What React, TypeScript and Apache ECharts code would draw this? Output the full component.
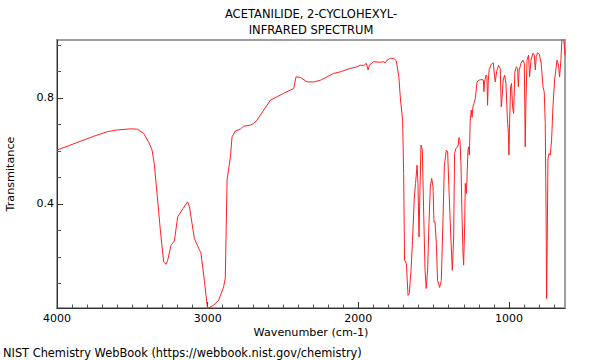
import React, { useEffect, useRef } from "react";
import * as echarts from "echarts";

// Wavenumbers (cm-1) and transmittance
const WAVENUMBERS = [
  4000, 3756, 3667, 3600, 3513, 3468, 3425, 3391, 3369, 3354, 3336, 3314, 3292, 3276, 3265, 3243, 3221,
  3199, 3163, 3133, 3121, 3088, 3053, 3044, 3022, 3004, 3000, 2960, 2927, 2894, 2883, 2871, 2849,
  2838, 2816, 2783, 2761, 2717, 2695, 2672, 2650, 2606, 2584, 2539, 2496, 2451, 2429, 2413, 2385,
  2340, 2296, 2252, 2208, 2164, 2119, 2075, 2053, 2008, 1987, 1965, 1947, 1935, 1927, 1898, 1854,
  1834, 1821, 1809, 1788, 1766, 1748, 1731, 1721, 1706, 1699, 1693, 1681, 1670, 1662, 1650, 1640,
  1628, 1620, 1610, 1604, 1597, 1593, 1584, 1575, 1567, 1557, 1549, 1540, 1531, 1522, 1513, 1504,
  1498, 1491, 1482, 1474, 1460, 1449, 1438, 1429, 1416, 1407, 1398, 1385, 1376, 1367, 1361, 1352,
  1338, 1332, 1325, 1318, 1312, 1305, 1301, 1294, 1290, 1283, 1279, 1272, 1268, 1263, 1257, 1250,
  1245, 1239, 1223, 1212, 1197, 1179, 1170, 1166, 1162, 1152, 1146, 1142, 1137, 1131, 1117, 1104,
  1095, 1091, 1082, 1069, 1058, 1051, 1046, 1038, 1029, 1020, 1011, 1004, 1000, 996, 989, 983,
  976, 969, 961, 951, 943, 938, 932, 920, 907, 898, 892, 887, 880, 870, 863, 854,
  841, 832, 825, 819, 810, 799, 786, 774, 766, 759, 754, 750, 746, 741, 734, 726,
  717, 708, 697, 681, 671, 664, 655, 648, 638, 628,
];
const TRANSMITTANCE = [
  0.603, 0.655, 0.672, 0.679, 0.683, 0.682, 0.666, 0.632, 0.603, 0.55, 0.439, 0.301, 0.181, 0.172, 0.188, 0.244, 0.26,
  0.351, 0.383, 0.408, 0.389, 0.269, 0.225, 0.213, 0.112, 0.02, 0.006, 0.018, 0.037, 0.087, 0.12, 0.49, 0.577,
  0.653, 0.675, 0.682, 0.693, 0.697, 0.703, 0.716, 0.735, 0.772, 0.791, 0.804, 0.817, 0.829, 0.835, 0.879, 0.877,
  0.86, 0.86, 0.866, 0.879, 0.892, 0.898, 0.907, 0.911, 0.917, 0.923, 0.921, 0.93, 0.905, 0.923, 0.936, 0.934,
  0.936, 0.932, 0.942, 0.949, 0.949, 0.94, 0.88, 0.8, 0.716, 0.515, 0.188, 0.175, 0.055, 0.062, 0.15, 0.263,
  0.426, 0.477, 0.546, 0.477, 0.275, 0.389, 0.622, 0.603, 0.389, 0.15, 0.081, 0.15, 0.326, 0.464, 0.496, 0.464,
  0.332, 0.332, 0.251, 0.112, 0.085, 0.112, 0.338, 0.54, 0.603, 0.596, 0.452, 0.263, 0.15, 0.275, 0.59, 0.609,
  0.618, 0.65, 0.64, 0.54, 0.364, 0.213, 0.169, 0.313, 0.477, 0.439, 0.489, 0.603, 0.615, 0.584, 0.716, 0.754,
  0.726, 0.766, 0.798, 0.86, 0.867, 0.869, 0.867, 0.823, 0.86, 0.886, 0.879, 0.772, 0.867, 0.907, 0.927, 0.932,
  0.879, 0.86, 0.898, 0.923, 0.911, 0.766, 0.798, 0.867, 0.886, 0.854, 0.728, 0.666, 0.584, 0.703, 0.842, 0.854,
  0.766, 0.741, 0.897, 0.917, 0.911, 0.842, 0.905, 0.93, 0.942, 0.93, 0.615, 0.791, 0.942, 0.961, 0.879, 0.942,
  0.968, 0.961, 0.905, 0.955, 0.97, 0.965, 0.93, 0.842, 0.823, 0.703, 0.389, 0.043, 0.263, 0.571, 0.59, 0.584,
  0.64, 0.766, 0.867, 0.942, 0.923, 0.879, 0.942, 1.03, 1.03, 0.96,
];

const X_MAJOR_TICKS = [1000, 2000, 3000, 4000];
const X_MINOR_TICKS = [
  700, 800, 900, 1100, 1200, 1300, 1400, 1500, 1600, 1700, 1800, 1900, 2100, 2200, 2300, 2400,
  2500, 2600, 2700, 2800, 2900, 3100, 3200, 3300, 3400, 3500, 3600, 3700, 3800, 3900,
];
const Y_MAJOR_TICKS = [0.4, 0.8];
const Y_MINOR_TICKS = [0.1, 0.2, 0.3, 0.5, 0.6, 0.7, 0.9, 1.0];

const X_MIN = 628;
const X_MAX = 4000;
const Y_MIN = 0.0075;
const Y_MAX = 1.018;

const TITLE_LINES = ["ACETANILIDE, 2-CYCLOHEXYL-", "INFRARED SPECTRUM"];
const X_NAME = "Wavenumber (cm-1)";
const Y_NAME = "Transmitance";
const FOOTER = "NIST Chemistry WebBook (https://webbook.nist.gov/chemistry)";

const FONT = "DejaVu Sans";

export default function App() {
  const ref = useRef<HTMLDivElement>(null);

  useEffect(() => {
    if (!ref.current) return;
    const chart = echarts.init(ref.current, null, { renderer: "svg" });
    const data = WAVENUMBERS.map((w, i) => [w, TRANSMITTANCE[i]]);
    const axisLineStyle = { color: "#333", width: 1 };

    chart.setOption({
      animation: false,
      backgroundColor: "#fff",
      grid: {
        left: 57,
        right: 35,
        top: 40,
        bottom: 52,
        show: true,
        borderColor: "#a0a0a0",
        borderWidth: 2,
      },
      xAxis: [
        {
          type: "value",
          inverse: true,
          min: X_MIN,
          max: X_MAX,
          position: "bottom",
          axisLine: { show: true, lineStyle: axisLineStyle },
          axisTick: { show: true, inside: true, length: 6, customValues: X_MAJOR_TICKS, lineStyle: axisLineStyle },
          axisLabel: {
            show: true,
            customValues: X_MAJOR_TICKS,
            formatter: (v: number) => String(v),
            margin: 5,
            color: "#000",
            fontFamily: FONT,
            fontSize: 11,
          },
          splitLine: { show: false },
        },
        {
          type: "value",
          inverse: true,
          min: X_MIN,
          max: X_MAX,
          position: "bottom",
          axisLine: { show: false },
          axisTick: { show: true, inside: true, length: 3.5, customValues: X_MINOR_TICKS, lineStyle: { color: "#555", width: 1 } },
          axisLabel: { show: false },
          splitLine: { show: false },
        },
      ],
      yAxis: [
        {
          type: "value",
          min: Y_MIN,
          max: Y_MAX,
          position: "left",
          axisLine: { show: true, lineStyle: axisLineStyle },
          axisTick: { show: true, inside: true, length: 6, customValues: Y_MAJOR_TICKS, lineStyle: axisLineStyle },
          axisLabel: {
            show: true,
            customValues: Y_MAJOR_TICKS,
            formatter: (v: number) => String(v),
            margin: 3,
            color: "#000",
            fontFamily: FONT,
            fontSize: 11,
          },
          splitLine: { show: false },
        },
        {
          type: "value",
          min: Y_MIN,
          max: Y_MAX,
          position: "left",
          axisLine: { show: false },
          axisTick: { show: true, inside: true, length: 4, customValues: Y_MINOR_TICKS, lineStyle: { color: "#555", width: 1 } },
          axisLabel: { show: false },
          splitLine: { show: false },
        },
      ],
      series: [
        {
          type: "line",
          xAxisIndex: 0,
          yAxisIndex: 0,
          data,
          showSymbol: false,
          symbol: "none",
          clip: true,
          lineStyle: { color: "#ff2020", width: 1 },
        },
      ],
      graphic: [
        {
          type: "text",
          x: 311,
          y: 13.5,
          style: { text: TITLE_LINES[0], fill: "#000", font: `11.5px '${FONT}'`, textAlign: "center", textVerticalAlign: "middle" },
        },
        {
          type: "text",
          x: 311,
          y: 30,
          style: { text: TITLE_LINES[1], fill: "#000", font: `11.5px '${FONT}'`, textAlign: "center", textVerticalAlign: "middle" },
        },
        {
          type: "text",
          x: 311,
          y: 332,
          style: { text: X_NAME, fill: "#000", font: `11.2px '${FONT}'`, textAlign: "center", textVerticalAlign: "middle" },
        },
        {
          type: "text",
          x: 10,
          y: 174,
          rotation: Math.PI / 2,
          style: { text: Y_NAME, fill: "#000", font: `11.2px '${FONT}'`, textAlign: "center", textVerticalAlign: "middle" },
        },
        {
          type: "text",
          x: 3,
          y: 353,
          style: { text: FOOTER, fill: "#000", font: `11.4px '${FONT}'`, textAlign: "left", textVerticalAlign: "middle" },
        },
      ],
    });

    return () => chart.dispose();
  }, []);

  return (
    <div
      ref={ref}
      style={{ position: "absolute", left: 0, top: 0, width: 600, height: 360 }}
    />
  );
}
